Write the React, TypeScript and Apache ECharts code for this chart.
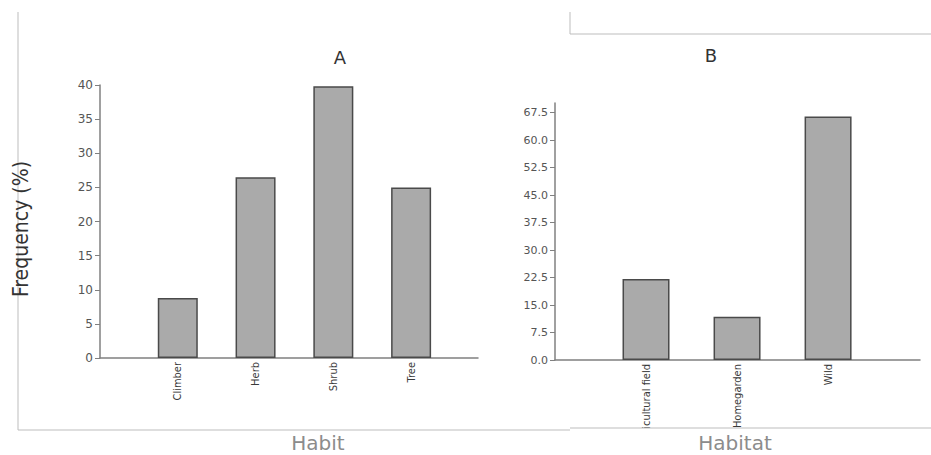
import React, { useEffect, useRef } from "react";
import * as echarts from "echarts";

const habitCategories = ["Climber", "Herb", "Shrub", "Tree"];
const habitValues = [8.8, 26.5, 39.8, 25.0];

const habitatCategories = ["Agricultural field", "Homegarden", "Wild"];
const habitatValues = [22.1, 11.8, 66.4];
const habitatTicks = [0, 7.5, 15, 22.5, 30, 37.5, 45, 52.5, 60, 67.5];

const FONT = "'DejaVu Sans', Verdana, sans-serif";
const NARROW = "'DejaVu Sans Condensed', 'Liberation Sans Narrow', sans-serif";

export default function App() {
  const ref = useRef<HTMLDivElement>(null);
  useEffect(() => {
    if (!ref.current) return;
    const chart = echarts.init(ref.current, undefined, { renderer: "svg" });
    const axisLineStyle = { color: "#808080", width: 1.5 };
    const barStyle = { color: "#aaaaaa", borderColor: "#4a4a4a", borderWidth: 1.5 };
    const frame = { stroke: "#bdbdbd", lineWidth: 1 };
    chart.setOption({
      animation: false,
      backgroundColor: "#ffffff",
      grid: [
        { left: 100, top: 85, width: 378, height: 273 },
        { left: 555, top: 103, width: 365, height: 257 },
      ],
      xAxis: [
        {
          gridIndex: 0,
          type: "value",
          min: 0,
          max: 4.86,
          splitLine: { show: false },
          axisLine: { lineStyle: axisLineStyle },
          axisTick: { show: false },
          axisLabel: {
            customValues: habitCategories.map((_, i) => i + 1),
            formatter: (v: number) => habitCategories[Math.round(v) - 1] ?? "",
            rotate: 90,
            margin: 4,
            fontSize: 11,
            fontFamily: NARROW,
            color: "#3a3a3a",
          },
        },
        {
          gridIndex: 1,
          type: "value",
          min: 0,
          max: 4.01,
          splitLine: { show: false },
          axisLine: { lineStyle: axisLineStyle },
          axisTick: { show: false },
          axisLabel: {
            customValues: habitatCategories.map((_, i) => i + 1),
            formatter: (v: number) => habitatCategories[Math.round(v) - 1] ?? "",
            rotate: 90,
            margin: 4,
            fontSize: 11,
            fontFamily: NARROW,
            color: "#3a3a3a",
          },
        },
      ],
      yAxis: [
        {
          gridIndex: 0,
          type: "value",
          min: 0,
          max: 40,
          interval: 5,
          splitLine: { show: false },
          axisLine: { show: true, lineStyle: axisLineStyle },
          axisTick: { show: true, length: 5, lineStyle: { color: "#808080" } },
          axisLabel: { margin: 7, fontSize: 12, fontFamily: FONT, color: "#555" },
        },
        {
          gridIndex: 1,
          type: "value",
          min: 0,
          max: 70.1,
          splitLine: { show: false },
          axisLine: { show: true, lineStyle: axisLineStyle },
          axisTick: {
            show: true,
            length: 5,
            lineStyle: { color: "#808080" },
            customValues: habitatTicks,
          },
          axisLabel: {
            customValues: habitatTicks,
            formatter: (v: number) => v.toFixed(1),
            margin: 7,
            fontSize: 11,
            fontFamily: FONT,
            color: "#555",
          },
        },
      ],
      series: [
        {
          type: "bar",
          xAxisIndex: 0,
          yAxisIndex: 0,
          barWidth: 40,
          itemStyle: barStyle,
          data: habitValues.map((v, i) => [i + 1, v]),
        },
        {
          type: "bar",
          xAxisIndex: 1,
          yAxisIndex: 1,
          barWidth: 47,
          itemStyle: barStyle,
          data: habitatValues.map((v, i) => [i + 1, v]),
        },
      ],
      graphic: [
        { type: "rect", z: 50, shape: { x: 560, y: 428, width: 371, height: 27 }, style: { fill: "#ffffff" } },
        { type: "line", z: 60, shape: { x1: 18, y1: 12, x2: 18, y2: 430 }, style: frame },
        { type: "line", z: 60, shape: { x1: 18, y1: 430, x2: 570, y2: 430 }, style: frame },
        { type: "line", z: 60, shape: { x1: 570, y1: 12, x2: 570, y2: 34 }, style: frame },
        { type: "line", z: 60, shape: { x1: 570, y1: 34, x2: 931, y2: 34 }, style: frame },
        { type: "line", z: 60, shape: { x1: 570, y1: 428, x2: 931, y2: 428 }, style: frame },
        {
          type: "text", z: 60, x: 340, y: 57,
          style: { text: "A", fontSize: 18, fontFamily: FONT, fill: "#333", textAlign: "center", textVerticalAlign: "middle" },
        },
        {
          type: "text", z: 60, x: 711, y: 55,
          style: { text: "B", fontSize: 18, fontFamily: FONT, fill: "#333", textAlign: "center", textVerticalAlign: "middle" },
        },
        {
          type: "text", z: 60, x: 21, y: 229, rotation: Math.PI / 2,
          style: { text: "Frequency (%)", fontSize: 21, fontFamily: NARROW, fontWeight: 200, fill: "#333", textAlign: "center", textVerticalAlign: "middle" },
        },
        {
          type: "text", z: 60, x: 318, y: 443,
          style: { text: "Habit", fontSize: 20, fontFamily: FONT, fill: "#8c8c8c", textAlign: "center", textVerticalAlign: "middle" },
        },
        {
          type: "text", z: 60, x: 735, y: 443,
          style: { text: "Habitat", fontSize: 20, fontFamily: FONT, fill: "#8c8c8c", textAlign: "center", textVerticalAlign: "middle" },
        },
      ],
    });
    return () => chart.dispose();
  }, []);
  return (
    <div
      ref={ref}
      style={{ position: "absolute", left: 0, top: 0, width: 931, height: 455 }}
    />
  );
}
